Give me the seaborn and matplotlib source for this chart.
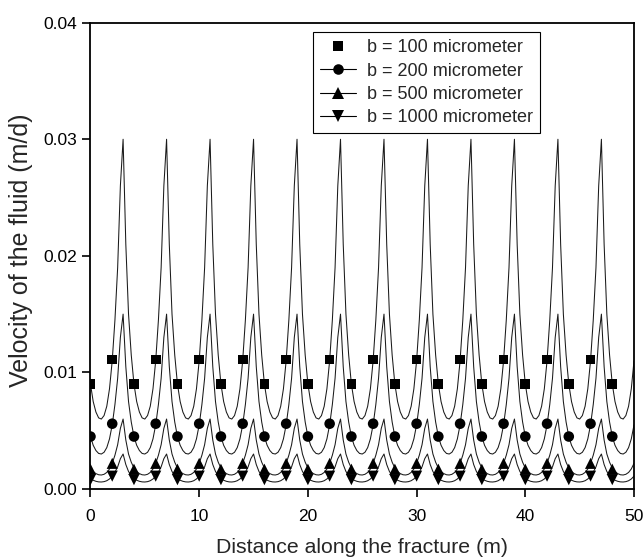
import numpy as np
import pandas as pd
import matplotlib
matplotlib.use("Agg")
import matplotlib.pyplot as plt
from matplotlib.lines import Line2D
import seaborn as sns

sns.set_theme(style="ticks")
plt.rcParams['font.family'] = ['Liberation Sans', 'DejaVu Sans']

# Aperture cases shown in the legend
series_labels = ["b = 100 micrometer", "b = 200 micrometer",
                 "b = 500 micrometer", "b = 1000 micrometer"]
series_markers = ["s", "o", "^", "v"]

# Velocity profile over one 4 m roughness period (offsets within the period, m)
period_length = 4.0
period_offsets = [0.00, 0.25, 0.50, 0.75, 1.00, 1.25, 1.50, 1.75,
                  2.00, 2.25, 2.50, 2.75, 3.00, 3.25, 3.50, 3.75]
profile_100 = [0.0090, 0.0075, 0.0066, 0.0061, 0.0060, 0.0063, 0.0071, 0.0086,
               0.0110, 0.0145, 0.0190, 0.0260, 0.0300, 0.0210, 0.0150, 0.0115]
profile_200 = [0.00450, 0.00375, 0.00330, 0.00305, 0.00300, 0.00315, 0.00355, 0.00430,
               0.00550, 0.00725, 0.00950, 0.01300, 0.01500, 0.01050, 0.00750, 0.00575]
profile_500 = [0.00180, 0.00150, 0.00132, 0.00122, 0.00120, 0.00126, 0.00142, 0.00172,
               0.00220, 0.00290, 0.00380, 0.00520, 0.00600, 0.00420, 0.00300, 0.00230]
profile_1000 = [0.00090, 0.00075, 0.00066, 0.00061, 0.00060, 0.00063, 0.00071, 0.00086,
                0.00110, 0.00145, 0.00190, 0.00260, 0.00300, 0.00210, 0.00150, 0.00115]
n_periods = 13
fracture_length = 50.0

# Discrete velocity points every 2 m
marker_x = [0, 2, 4, 6, 8, 10, 12, 14, 16, 18, 20, 22, 24,
            26, 28, 30, 32, 34, 36, 38, 40, 42, 44, 46, 48]
marker_100 = [0.0090, 0.0111, 0.0090, 0.0111, 0.0090, 0.0111, 0.0090, 0.0111, 0.0090,
              0.0111, 0.0090, 0.0111, 0.0090, 0.0111, 0.0090, 0.0111, 0.0090, 0.0111,
              0.0090, 0.0111, 0.0090, 0.0111, 0.0090, 0.0111, 0.0090]
marker_200 = [0.0045, 0.0056, 0.0045, 0.0056, 0.0045, 0.0056, 0.0045, 0.0056, 0.0045,
              0.0056, 0.0045, 0.0056, 0.0045, 0.0056, 0.0045, 0.0056, 0.0045, 0.0056,
              0.0045, 0.0056, 0.0045, 0.0056, 0.0045, 0.0056, 0.0045]
marker_500 = [0.0017, 0.0022, 0.0017, 0.0022, 0.0017, 0.0022, 0.0017, 0.0022, 0.0017,
              0.0022, 0.0017, 0.0022, 0.0017, 0.0022, 0.0017, 0.0022, 0.0017, 0.0022,
              0.0017, 0.0022, 0.0017, 0.0022, 0.0017, 0.0022, 0.0017]
marker_1000 = [0.0008, 0.0011, 0.0008, 0.0011, 0.0008, 0.0011, 0.0008, 0.0011, 0.0008,
               0.0011, 0.0008, 0.0011, 0.0008, 0.0011, 0.0008, 0.0011, 0.0008, 0.0011,
               0.0008, 0.0011, 0.0008, 0.0011, 0.0008, 0.0011, 0.0008]

profiles = [profile_100, profile_200, profile_500, profile_1000]
marker_values = [marker_100, marker_200, marker_500, marker_1000]

# Lay the periodic profile along the whole fracture
curve_x = np.concatenate([k * period_length + np.asarray(period_offsets)
                          for k in range(n_periods)])
keep = curve_x <= fracture_length
curve_rows = []
for lab, prof in zip(series_labels, profiles):
    vals = np.tile(prof, n_periods)[keep]
    curve_rows.append(pd.DataFrame({"distance": curve_x[keep], "velocity": vals, "case": lab}))
curves = pd.concat(curve_rows, ignore_index=True)

point_rows = []
for lab, vals in zip(series_labels, marker_values):
    point_rows.append(pd.DataFrame({"distance": marker_x, "velocity": vals, "case": lab}))
points = pd.concat(point_rows, ignore_index=True)

fig = plt.figure(figsize=(6.44, 5.60), dpi=100)
ax = fig.add_axes([0.1405, 0.1268, 0.8440, 0.8327])

line_color = "#1a1a1a"
marker_sizes = {"s": 7.0, "o": 7.6, "^": 8.0, "v": 8.0}

for lab in series_labels:
    sub = curves[curves["case"] == lab]
    sns.lineplot(data=sub, x="distance", y="velocity", color=line_color,
                 linewidth=0.75, ax=ax, legend=False, sort=False, zorder=2)

for lab, mk in zip(series_labels, series_markers):
    sub = points[points["case"] == lab]
    sns.scatterplot(data=sub, x="distance", y="velocity", marker=mk,
                    s=marker_sizes[mk] ** 2, color="black", edgecolor="none",
                    linewidth=0, ax=ax, legend=False, zorder=3)

ax.set_xlim(0, 50)
ax.set_ylim(0, 0.04)
ax.set_xticks([0, 10, 20, 30, 40, 50])
ax.set_yticks([0.00, 0.01, 0.02, 0.03, 0.04])
ax.yaxis.set_major_formatter(matplotlib.ticker.FormatStrFormatter("%.2f"))

for side in ["left", "right", "top", "bottom"]:
    ax.spines[side].set_visible(True)
    ax.spines[side].set_color("black")
    ax.spines[side].set_linewidth(1.3)

ax.tick_params(axis="both", which="major", direction="out", length=5.5, width=1.2,
               labelsize=12.5, colors="black")
ax.tick_params(axis="x", pad=9)
ax.tick_params(axis="y", pad=4)
ax.tick_params(top=False, right=False)

ax.set_xlabel("Distance along the fracture (m)", fontsize=15.3, labelpad=10)
ax.set_ylabel("Velocity of the fluid (m/d)", fontsize=18)
ax.yaxis.set_label_coords(-0.106, 0.513)

handles = []
for i, mk in enumerate(series_markers):
    handles.append(Line2D([], [], color="black", marker=mk, markersize=marker_sizes[mk],
                          linestyle="none" if i == 0 else "-", linewidth=0.8,
                          markeredgewidth=0))
leg = ax.legend(handles, series_labels, loc="upper left",
                bbox_to_anchor=(313 / 644, 1 - 32 / 560), bbox_transform=fig.transFigure,
                borderaxespad=0, frameon=True, fancybox=False, fontsize=13,
                handlelength=2.0, handletextpad=0.6, labelspacing=0.35,
                borderpad=0.4)
leg.get_frame().set_edgecolor("black")
leg.get_frame().set_linewidth(0.8)
leg.get_frame().set_alpha(1)

fig.savefig("out.png", dpi=100)
